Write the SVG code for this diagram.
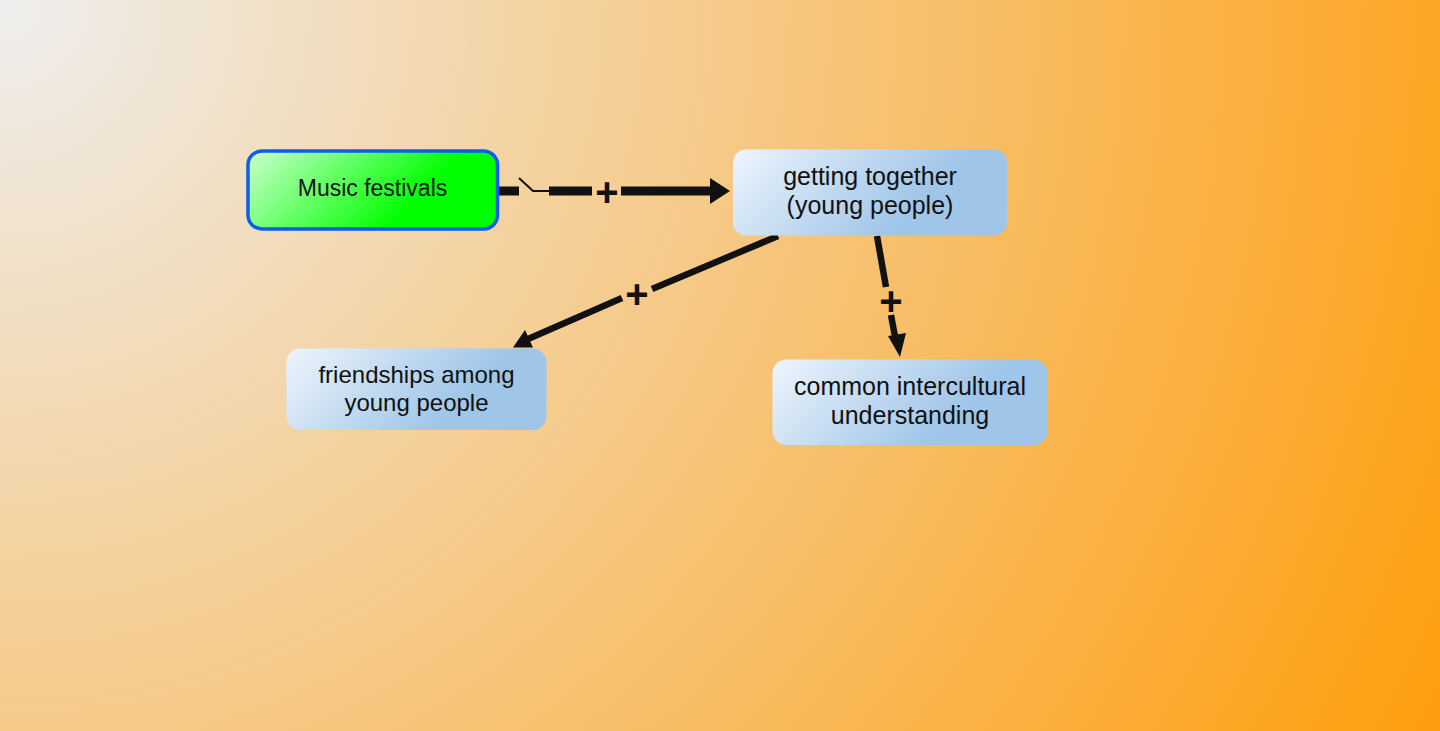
<svg xmlns="http://www.w3.org/2000/svg" width="1440" height="731" viewBox="0 0 1440 731">
<defs>
<radialGradient id="bg" gradientUnits="userSpaceOnUse" cx="0" cy="0" r="1700">
<stop offset="0" stop-color="#eeeeee"/>
<stop offset="1" stop-color="#ff9900"/>
</radialGradient>
<linearGradient id="green" x1="0" y1="0" x2="0.8" y2="0.25">
<stop offset="0" stop-color="#ccffcc"/>
<stop offset="1" stop-color="#00ff00"/>
</linearGradient>
<linearGradient id="blue" x1="0" y1="0" x2="0.8" y2="0.25">
<stop offset="0" stop-color="#eef5fd"/>
<stop offset="1" stop-color="#9fc5e8"/>
</linearGradient>
<style>
.lbl{font-family:"Liberation Sans",Arial,sans-serif;fill:#111111;text-anchor:middle}
.sign{font-family:"Liberation Sans",Arial,sans-serif;font-weight:bold;font-size:40px;fill:#111111;text-anchor:middle}
.thick{stroke:#111111;stroke-width:9;fill:none}
.med{stroke:#111111;stroke-width:6.5;fill:none}
.thin{stroke:#111111;stroke-width:2;fill:none}
.head{fill:#111111}
</style>
</defs>
<rect x="0" y="0" width="1440" height="731" fill="url(#bg)"/>
<g id="connectors">
<g id="c1">
<line class="thick" x1="498" y1="191" x2="519" y2="191"/>
<polyline class="thin" points="519,178 533,191 549,191"/>
<line class="thick" x1="549" y1="191" x2="592" y2="191"/>
<text class="sign" x="607" y="206">+</text>
<line class="thick" x1="621" y1="191" x2="712" y2="191"/>
<polygon class="head" points="710,178 730,191 710,204"/>
</g>
<g id="c2">
<line class="med" x1="778" y1="236" x2="652" y2="289"/>
<text class="sign" x="637" y="307.5">+</text>
<line class="med" x1="622" y1="298" x2="528" y2="339"/>
<polygon class="head" points="513,347.5 525,330 533,347.5"/>
</g>
<g id="c3">
<line class="med" x1="877" y1="236" x2="886" y2="287"/>
<text class="sign" x="891" y="314.5">+</text>
<line class="med" x1="891" y1="315" x2="896" y2="342"/>
<polygon class="head" points="900,357 888,336 906,333"/>
</g>
</g>
<g id="n-music">
<rect x="248" y="151" width="249.5" height="78" rx="14" fill="url(#green)" stroke="#0a5ee8" stroke-width="3.5"/>
<text class="lbl" x="372.5" y="196" style="font-size:23px">Music festivals</text>
</g>
<g id="n-getting">
<rect x="733" y="149.5" width="274" height="86" rx="13" fill="url(#blue)"/>
<text class="lbl" x="870" y="185" style="font-size:25px">getting together</text>
<text class="lbl" x="870" y="214" style="font-size:25px">(young people)</text>
</g>
<g id="n-friend">
<rect x="286.5" y="348.5" width="260" height="81.5" rx="14" fill="url(#blue)"/>
<text class="lbl" x="416.5" y="383" style="font-size:24px">friendships among</text>
<text class="lbl" x="416.5" y="411" style="font-size:24px">young people</text>
</g>
<g id="n-common">
<rect x="772.5" y="359.5" width="275" height="85.5" rx="14" fill="url(#blue)"/>
<text class="lbl" x="910" y="395" style="font-size:25px">common intercultural</text>
<text class="lbl" x="910" y="424" style="font-size:25px">understanding</text>
</g>
</svg>
